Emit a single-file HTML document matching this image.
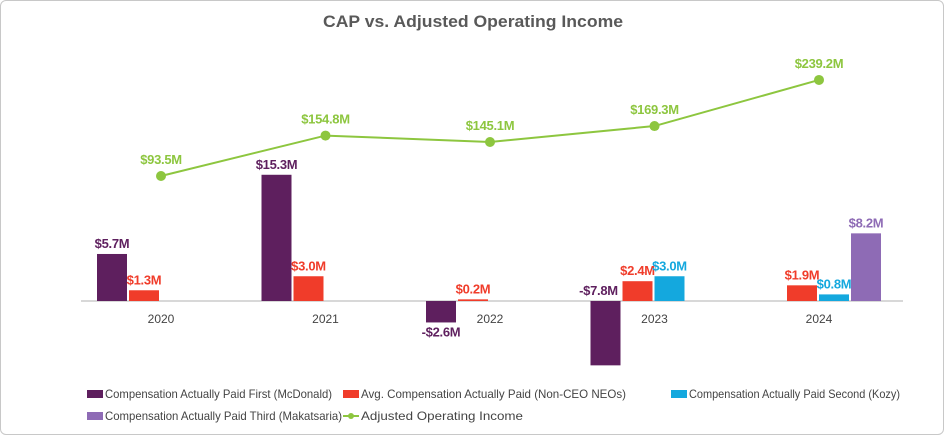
<!DOCTYPE html>
<html><head><meta charset="utf-8">
<style>
body{margin:0;background:#fff;font-family:"Liberation Sans",sans-serif;}
#wrap{position:relative;width:942px;height:433px;border:1px solid #c8c8c8;border-radius:6px;overflow:hidden;}
svg{position:absolute;left:0;top:0;}
</style></head>
<body>
<div id="wrap">
<svg id="chart" width="944" height="435">
<text x="472" y="26" text-anchor="middle" font-size="17" font-weight="bold" fill="#595959" textLength="300" lengthAdjust="spacingAndGlyphs">CAP vs. Adjusted Operating Income</text>
<line x1="80" y1="300" x2="902" y2="300" stroke="#b0b0b0" stroke-width="1"/>
</svg>
</div>
<script>
const years=["2020","2021","2022","2023","2024"];
const mcdonald=[5.7,15.3,-2.6,-7.8,null];
const neos=[1.3,3.0,0.2,2.4,1.9];
const kozy=[null,null,null,3.0,0.8];
const makatsaria=[null,null,null,null,8.2];
const income=[93.5,154.8,145.1,169.3,239.2];

const svg=document.getElementById('chart');
const NS="http://www.w3.org/2000/svg";
const xC=i=>160+i*164.5;
const yB=v=>300-v*8.25;
const yL=v=>236.6-v*0.659;
function mk(t,a){const e=document.createElementNS(NS,t);for(const k in a)e.setAttribute(k,a[k]);svg.appendChild(e);return e;}
const series=[
 {d:mcdonald,c:"#5e1f5e",off:-64,n:"mcdonald"},
 {d:neos,c:"#f03c2a",off:-32,n:"neos"},
 {d:kozy,c:"#14a8de",off:0,n:"kozy"},
 {d:makatsaria,c:"#8e6bb5",off:32,n:"makatsaria"}];
series.forEach(s=>{
 s.d.forEach((v,i)=>{
  if(v===null)return;
  const x=xC(i)+s.off;
  const y0=yB(Math.max(v,0)),h=Math.abs(yB(v)-yB(0));
  const r=mk('rect',{x:x,y:y0,width:30,height:Math.max(h,1),fill:s.c});
  
  
  let ty,tx=x+15;
  if(v>=0) ty=yB(v)-6;
  else if(v<-5){ty=yB(0)-6;tx=x+8;}
  else ty=yB(v)+14;
  const t=mk('text',{x:tx,y:ty,'text-anchor':'middle','font-size':13,'font-weight':'bold',fill:s.c,'letter-spacing':'-0.3'});
  t.textContent=(v<0?'-$':'$')+Math.abs(v).toFixed(1)+'M';
  
  
 });
});
years.forEach((y,i)=>{
 const t=mk('text',{x:xC(i),y:322,'text-anchor':'middle','font-size':12,fill:'#444'});
 t.textContent=y;
 
 
});
const pl=mk('polyline',{points:income.map((v,i)=>xC(i)+','+yL(v)).join(' '),fill:'none',stroke:'#8dc63f','stroke-width':2});


income.forEach((v,i)=>{
 const c=mk('circle',{cx:xC(i),cy:yL(v),r:5,fill:'#8dc63f'});
 
 
 const t=mk('text',{x:xC(i),y:yL(v)-12,'text-anchor':'middle','font-size':13,'font-weight':'bold',fill:'#8dc63f','letter-spacing':'-0.3'});
 t.textContent='$'+v.toFixed(1)+'M';
 
 
});
const legend=[
 {x:86,y:393,c:"#5e1f5e",t:"Compensation Actually Paid First (McDonald)",w:227,line:false},
 {x:342,y:393,c:"#f03c2a",t:"Avg. Compensation Actually Paid (Non-CEO NEOs)",w:265,line:false},
 {x:670,y:393,c:"#14a8de",t:"Compensation Actually Paid Second (Kozy)",w:211,line:false},
 {x:86,y:415,c:"#8e6bb5",t:"Compensation Actually Paid Third (Makatsaria)",w:237,line:false},
 {x:342,y:415,c:"#8dc63f",t:"Adjusted Operating Income",w:162,line:true}];
legend.forEach((l,i)=>{
 if(l.line){
  const ln=mk('line',{x1:l.x,y1:l.y,x2:l.x+16,y2:l.y,stroke:l.c,'stroke-width':2});
  
  
  const c=mk('circle',{cx:l.x+8,cy:l.y,r:3,fill:l.c});
  
  
 } else {
  const r=mk('rect',{x:l.x,y:l.y-4,width:16,height:8,fill:l.c});
  
  
 }
 const t=mk('text',{x:l.x+18,y:l.y+4,'font-size':12,fill:'#444',textLength:l.w,lengthAdjust:'spacingAndGlyphs'});
 t.textContent=l.t;
 
 
});
</script>
</body></html>
